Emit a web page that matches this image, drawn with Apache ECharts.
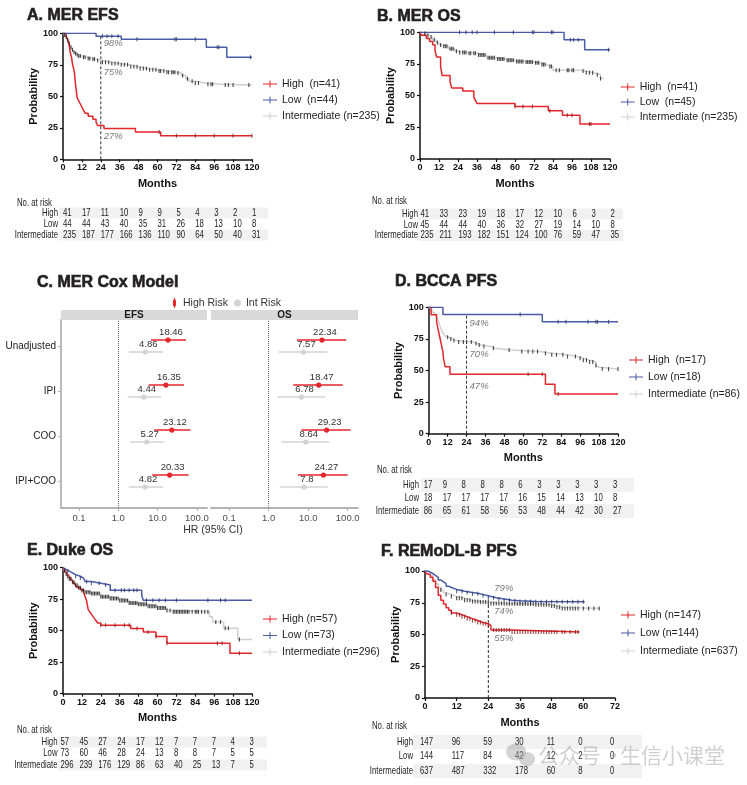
<!DOCTYPE html>
<html><head><meta charset="utf-8">
<script src="https://cdn.jsdelivr.net/npm/echarts@6/dist/echarts.min.js"></script>
<style>html,body{margin:0;padding:0;background:#fff}#main{width:747px;height:785px}</style>
</head><body><div id="main"></div>
<script>
// ---------------- DATA ----------------
const riskGroups = ['High', 'Low', 'Intermediate'];
// Panel A: MER EFS
const A_high = [[0,100],[2,97.6],[3,95.1],[4,90.2],[4.5,85.4],[5.5,80.5],[6,75.6],[7,70.7],[7.5,65.9],[8,58.5],[8.5,53.7],[9,48.8],[10,46.3],[11,43.9],[12,41.5],[13,39],[14,36.6],[16,34.1],[19,31.7],[21,29.3],[22,26.8],[26,24.4],[46,21.7],[62,18.6],[120,18.6]];
const A_high_cens = [61,72,84,96,108,120];
const A_low = [[0,100],[21,97.7],[37,95.3],[91,88.9],[104,81],[120,81]];
const A_low_cens = [25,28,31,35,47,71,72,84,98,99,119];
const A_int = [[0,100],[1,98.7],[2,97],[3,94.5],[4,92],[5,89],[6,87],[7,85],[8,84],[9,83],[10,82],[12,81],[15,80],[18,79.5],[21,78.5],[24,77],[30,76],[36,75],[42,73.5],[48,72],[54,71],[60,70],[66,69],[72,68.5],[75,66.5],[78,64],[80,62],[84,60.5],[90,59.5],[100,59],[120,59]];
const A_int_cens = [1,2,3,4,5,6,7,8,9,10,11,13,14,16,17,19,20,22,25,27,29,31,33,35,37,39,41,43,45,47,49,51,53,55,57,59,61,62,64,66,67,69,70,71,73,76,79,82,84,86,92,94,95,103,105,108,118];
const A_legend = ['High  (n=41)', 'Low  (n=44)', 'Intermediate (n=235)'];
const A_pct = [98, 75, 27];
const A_risk_high = [41,17,11,10,9,9,5,4,3,2,1];
const A_risk_low = [44,44,43,40,35,31,26,18,13,10,8];
const A_risk_int = [235,187,177,166,136,110,90,64,50,40,31];

// Panel B: MER OS
const B_high = [[0,100],[1,97.6],[4,95.1],[6,92.7],[8,90.2],[9.5,85.4],[10.5,80.5],[13,73.2],[14,65.9],[19,61],[20,56.1],[27,53.7],[34,48.8],[35,46.3],[36,43.9],[60,41.5],[81,38],[90,34.6],[101,27.7],[120,27.7]];
const B_high_cens = [60,65,71,82,93,96,107,108];
const B_low = [[0,100],[91,94.2],[104,86.3],[120,86.3]];
const B_low_cens = [25,29,33,36,47,59,71,72,83,84,95,97,100,119];
const B_int = [[0,100],[2,99],[4,97.5],[6,96],[8,94],[10,92],[12,90],[14,89],[18,87],[22,85],[24,84],[30,83.5],[36,82],[42,80],[48,79],[54,78],[60,77],[66,76.5],[72,76],[76,74.5],[80,73],[84,70],[100,69.5],[104,68],[110,66.5],[114,63.5],[116,63.5]];
const B_int_cens = [3,5,7,9,11,13,15,16,17,19,20,21,23,25,27,28,29,31,32,34,35,37,38,39,40,41,43,44,45,46,47,49,50,51,52,53,55,56,57,58,59,61,62,63,64,65,67,68,69,70,71,73,74,75,77,78,79,82,83,86,88,93,94,96,97,103,105,107,109,112,114];
const B_legend = ['High  (n=41)', 'Low  (n=45)', 'Intermediate (n=235)'];
const B_risk_high = [41,33,23,19,18,17,12,10,6,3,2];
const B_risk_low = [45,44,44,40,36,32,27,19,14,10,8];
const B_risk_int = [235,211,193,182,151,124,100,76,59,47,35];

// Panel D: BCCA PFS
const D_high = [[0,100],[1.5,94.1],[5,88.2],[6,82.4],[7,76.5],[8,70.6],[9,64.7],[9.5,58.8],[10.5,52.9],[13.5,47.1],[74,39.2],[80,31.4],[120,31.4]];
const D_high_cens = [63,72,82];
const D_low = [[0,100],[9,94.4],[72,88.5],[120,88.5]];
const D_low_cens = [58,82,87,101,106,107,114];
const D_int = [[0,100],[1,98.8],[2,96.5],[3,95.3],[4,94.2],[5,91.9],[6,89.5],[7,85.8],[8,82.2],[9,79.8],[10,77.5],[11,76.3],[13,75],[15,73.8],[17,72.6],[28,71.4],[31,70.1],[33,68.9],[40,67.6],[42,66.3],[52,65],[70,63.7],[78,62.4],[88,61],[94,59.6],[98,58.2],[102,56.8],[106,54],[107,52.5],[108,51.1],[120,51.1]];
const D_int_cens = [12,14,16,19,22,24,27,30,32,35,41,51,59,63,66,69,74,78,81,85,88,93,96,98,100,102,104,106,110,114,120];
const D_legend = ['High  (n=17)', 'Low (n=18)', 'Intermediate (n=86)'];
const D_pct = [94, 70, 47];
const D_risk_high = [17,9,8,8,8,6,3,3,3,3,3];
const D_risk_low = [18,17,17,17,17,16,15,14,13,10,8];
const D_risk_int = [86,65,61,58,56,53,48,44,42,30,27];

// Panel E: Duke OS
const E_high = [[0,100],[1,98.2],[2,96.5],[3,94.7],[4,93],[5,91.2],[6,89.5],[7,87.7],[8,86],[9,84.2],[11,82.5],[13,80.7],[14,77.2],[15,73.7],[15.5,70.2],[16,66.7],[17,64.9],[18,63.2],[19,61.4],[20,59.6],[21,57.9],[22,56.1],[24,54.4],[43,51.8],[51,49],[59,45.3],[66,40.1],[106,32.1],[120,32.1]];
const E_high_cens = [24,27,33,39,42,47,54,59,66,98,101,112];
const E_low = [[0,100],[1,98.6],[2,97.3],[4,95.9],[6,94.5],[8,93.2],[11,91.8],[13,90.4],[14,89],[18,87.7],[24,86.3],[30,82.1],[50,78],[51,74.2],[120,74.2]];
const E_low_cens = [3,8,11,15,18,23,27,33,37,39,42,45,47,53,57,61,65,72,92,100,103];
const E_int = [[0,100],[1,97.5],[2,95],[3,93],[4,91],[6,88.5],[8,86],[10,84],[12,82],[14,80.5],[18,79.5],[24,77],[30,75.5],[36,74],[42,72],[48,71],[54,69.5],[60,68],[66,66],[70,65],[93,61],[95,57],[102,52],[111,43],[120,43]];
const E_int_cens = [1,2,3,4,5,6,7,8,9,10,11,12,13,14,15,16,17,18,19,20,21,22,23,24,25,26,27,28,29,30,31,32,33,34,35,36,37,38,39,40,41,42,43,44,45,46,47,48,49,50,51,52,53,54,55,56,57,58,59,60,61,62,63,64,65,66,68,70,71,72,73,74,75,76,77,78,79,80,82,84,85,86,88,90,92,97,100,103,105,112];
const E_legend = ['High (n=57)', 'Low (n=73)', 'Intermediate (n=296)'];
const E_risk_high = [57,45,27,24,17,12,7,7,7,4,3];
const E_risk_low = [73,60,46,28,24,13,8,8,7,5,5];
const E_risk_int = [296,239,176,129,86,63,40,25,13,7,5];

// Panel F: REMoDL-B PFS
const F_high = [[0,100],[0.5,98],[1,97],[2,95],[3,92],[4,87],[5,81],[6,77],[7,74],[8,71],[9,69],[10,67],[12,65.5],[14,64],[16,62.5],[18,61],[20,59.5],[22,58.5],[24,57],[25,53.5],[33,52],[58.5,52]];
const F_high_cens = [10,12,13,14,15,16,17,18,19,20,21,22,23,24,26,27,28,29,30,31,32,33,34,35,36,37,38,39,40,41,42,43,44,45,46,47,48,49,50,52,53,55,57,58];
const F_low = [[0,100],[1,99],[2,98],[3,96.5],[4,95],[5,93],[6,91.5],[7,90],[8,88],[9,87],[10,85.5],[12,84],[15,83],[18,82],[21,80.5],[24,79],[27,78],[30,77],[33,76.5],[36,76],[42,75.7],[60.5,75.5]];
const F_low_cens = [12,14,16,18,20,22,24,26,28,30,32,34,36,38,40,42,44,46,48,50,52,54,56,58,60];
const F_int = [[0,100],[1,98.5],[2,96.5],[3,93],[4,90],[5,87.5],[6,85],[7,83],[8,81.5],[10,80],[12,78.5],[15,77],[18,76],[21,75.5],[24,74.5],[30,74.3],[36,74],[42,73.5],[48,72.5],[50,71.5],[52,70.5],[66.3,70.5]];
const F_int_cens = [6,8,10,12,13,14,15,16,17,18,19,20,21,22,23,24,25,26,27,28,29,30,31,32,33,34,35,36,37,38,39,40,41,42,43,44,45,46,47,48,49,50,51,52,53,54,55,56,57,58,60,62,64,66];
const F_legend = ['High (n=147)', 'Low (n=144)', 'Intermediate (n=637)'];
const F_pct = [79, 74, 55];
const F_risk_high = [147,96,59,30,11,0,0];
const F_risk_low = [144,117,84,42,12,2,0];
const F_risk_int = [637,487,332,178,60,8,0];

// Panel C: MER Cox model (hazard ratios, 95% CI)
const C_rows = ['Unadjusted', 'IPI', 'COO', 'IPI+COO'];
const C_ticks = [0.1, 1, 10, 100];
const C_tickLabels = ['0.1', '1.0', '10.0', '100.0'];
const EFS_high_hr = [18.46, 16.35, 23.12, 20.33];
const EFS_high_lo = [6.8, 5.9, 8.2, 7.3];
const EFS_high_hi = [53, 47, 69, 62];
const EFS_int_hr = [4.86, 4.44, 5.27, 4.82];
const EFS_int_lo = [1.87, 1.73, 1.98, 1.85];
const EFS_int_hi = [13.7, 12.4, 15, 13.7];
const OS_high_hr = [22.34, 18.47, 29.23, 24.27];
const OS_high_lo = [5.2, 4.2, 6.7, 5.5];
const OS_high_hi = [91, 75, 118, 100];
const OS_int_hr = [7.57, 6.78, 8.64, 7.8];
const OS_int_lo = [1.8, 1.66, 2.09, 1.89];
const OS_int_hi = [30, 27, 34, 31];

// ---------------- RENDER ----------------
const SANS = "'Liberation Sans',Arial,sans-serif";
const COL = {High: '#e3262b', Low: '#4a5ba8', Int: '#cfcfcf'};
const CENS = {High: '#8a1a1a', Low: '#2a376f', Int: '#1a1a1a'};
const TICK_ICON = 'path://M0,3h6.5v-3h1v3h6.5v1h-6.5v3h-1v-3h-6.5z';

function stepValue(curve, t) {
  let v = curve[0][1];
  for (const p of curve) { if (p[0] <= t) v = p[1]; else break; }
  return v;
}

const KM = [
  {id:'A', grid:{left:63, top:33.3, width:189, height:126}, xmax:120,
   curves:{High:[A_high,A_high_cens], Low:[A_low,A_low_cens], Int:[A_int,A_int_cens]},
   legend:A_legend, leg:{left:258, top:73.5, gap:5}, pct:A_pct, pctOff:[[3,8],[3,8],[3,11]],
   risk:{rows:[A_risk_high,A_risk_low,A_risk_int], header:[17,203], ys:[213,224,235], labelX:58, off:0, shade:[59,268], h:11}},
  {id:'B', grid:{left:420, top:32.3, width:190, height:126.7}, xmax:120,
   curves:{High:[B_high,B_high_cens], Low:[B_low,B_low_cens], Int:[B_int,B_int_cens]},
   legend:B_legend, leg:{left:615.7, top:76.5, gap:4}, pct:null,
   risk:{rows:[B_risk_high,B_risk_low,B_risk_int], header:[372,201], ys:[214,225,235.5], labelX:418, off:0.5, shade:[418,623], h:11}},
  {id:'D', grid:{left:428.7, top:307.3, width:189.3, height:126.4}, xmax:120,
   curves:{High:[D_high,D_high_cens], Low:[D_low,D_low_cens], Int:[D_int,D_int_cens]},
   legend:D_legend, leg:{left:624, top:349.5, gap:6}, pct:D_pct, pctOff:[[3,8],[3,9],[3,12]],
   risk:{rows:[D_risk_high,D_risk_low,D_risk_int], header:[377,470], ys:[485,498,511], labelX:419, off:-5, shade:[421,634], h:14}},
  {id:'E', grid:{left:63, top:567.7, width:189, height:126}, xmax:120,
   curves:{High:[E_high,E_high_cens], Low:[E_low,E_low_cens], Int:[E_int,E_int_cens]},
   legend:E_legend, leg:{left:258, top:608.5, gap:5.5}, pct:null,
   risk:{rows:[E_risk_high,E_risk_low,E_risk_int], header:[17,730], ys:[742,753,765], labelX:57.5, off:-2.5, shade:[58,267], h:11}},
  {id:'F', grid:{left:425, top:571, width:190, height:127}, xmax:72,
   curves:{High:[F_high,F_high_cens], Low:[F_low,F_low_cens], Int:[F_int,F_int_cens]},
   legend:F_legend, leg:{left:616, top:604.5, gap:7}, pct:F_pct, pctOff:[[6,-9],[6,7],[6,10.5]],
   risk:{rows:[F_risk_high,F_risk_low,F_risk_int], header:[372,726], ys:[742,756,771], labelX:413, off:-5, shade:[413,642], h:14}}
];

const grids = [], xAxes = [], yAxes = [], series = [], legends = [];
KM.forEach((p, pi) => {
  grids.push(Object.assign({outerBoundsMode:'none', containLabel:false}, p.grid));
  xAxes.push({gridIndex:pi, type:'value', min:0, max:p.xmax, interval:12,
    name:'Months', nameLocation:'middle', nameGap:19,
    nameTextStyle:{fontFamily:SANS, fontWeight:'bold', fontSize:11, color:'#111'},
    axisLine:{show:true, onZero:false, lineStyle:{color:'#111', width:1.5}},
    axisTick:{show:true, length:3, lineStyle:{color:'#111', width:1.2}},
    axisLabel:{margin:4, fontFamily:SANS, fontWeight:'bold', fontSize:9, color:'#111'},
    splitLine:{show:false}});
  yAxes.push({gridIndex:pi, type:'value', min:0, max:100, interval:25,
    name:'Probability', nameLocation:'middle', nameGap:21,
    nameTextStyle:{fontFamily:SANS, fontWeight:'bold', fontSize:11, color:'#111'},
    axisLine:{show:true, onZero:false, lineStyle:{color:'#111', width:1.5}},
    axisTick:{show:true, length:3, lineStyle:{color:'#111', width:1.2}},
    axisLabel:{margin:5, fontFamily:SANS, fontWeight:'bold', fontSize:9, color:'#111'},
    splitLine:{show:false}});
  const labelMap = {};
  ['High','Low','Int'].forEach((g, gi) => {
    const [curve, cens] = p.curves[g];
    const nm = p.id + '_' + g;
    labelMap[nm] = p.legend[gi];
    series.push({name:nm, type:'line', xAxisIndex:pi, yAxisIndex:pi, step:'end', showSymbol:false, symbol:'none',
      data:curve, lineStyle:{color:COL[g], width:1.5}, itemStyle:{color:COL[g]}, z:(g === 'Int' ? 2 : 3), silent:true});
    series.push({type:'scatter', xAxisIndex:pi, yAxisIndex:pi, symbol:'rect', symbolSize:[1.1, 4],
      data:cens.map(t => [t, stepValue(curve, t)]), itemStyle:{color:CENS[g]}, z:4, silent:true});
  });
  legends.push({orient:'vertical', left:p.leg.left, top:p.leg.top, itemWidth:14, itemHeight:7, itemGap:p.leg.gap,
    selectedMode:false, data:['High','Low','Int'].map(g => ({name:p.id + '_' + g, icon:TICK_ICON})),
    formatter:n => labelMap[n], textStyle:{fontFamily:SANS, fontSize:10.5, color:'#222'}});
  if (p.pct) {
    const lowCurve = p.curves.Low[0];
    series.push({type:'line', xAxisIndex:pi, yAxisIndex:pi, symbol:'none', silent:true, z:1,
      data:[[24, 0], [24, stepValue(lowCurve, 24)]], lineStyle:{color:'#333', width:1, type:[3, 2]}});
    series.push({type:'scatter', xAxisIndex:pi, yAxisIndex:pi, symbolSize:0, silent:true, z:5,
      data:p.pct.map((v, k) => ({value:[24, v], label:{offset:p.pctOff[k]}})),
      label:{show:true, position:'right', distance:0, formatter:d => d.value[1] + '%',
        fontFamily:SANS, fontStyle:'italic', fontSize:9.5, color:'#555'}});
  }
});

// Forest plot grids (index 5: EFS, 6: OS)
const LOGMIN = -1.46, LOGMAX = 2.26, YMIN = 0.4, YMAX = 4.58;
const forestGrids = [{left:61, top:320, width:146, height:188}, {left:211, top:320, width:147, height:188}];
const tickLog = C_ticks.map(v => Math.log10(v));
forestGrids.forEach((g, k) => {
  const gi = 5 + k;
  grids.push(Object.assign({outerBoundsMode:'none', containLabel:false}, g));
  xAxes.push({gridIndex:gi, type:'value', min:LOGMIN, max:LOGMAX,
    axisLine:{show:true, onZero:false, lineStyle:{color:'#b3b3b3', width:1.8}},
    axisTick:{show:true, customValues:tickLog, length:3, lineStyle:{color:'#b3b3b3'}},
    axisLabel:{customValues:tickLog, margin:5, fontFamily:SANS, fontSize:9.5, color:'#4d4d4d',
      formatter:v => C_tickLabels[tickLog.findIndex(t => Math.abs(t - v) < 1e-6)]},
    splitLine:{show:false}});
  yAxes.push({gridIndex:gi, type:'value', min:YMIN, max:YMAX,
    axisLine:{show:k === 0, onZero:false, lineStyle:{color:'#b3b3b3', width:1.8}},
    axisTick:{show:k === 0, customValues:[1,2,3,4], length:3, lineStyle:{color:'#b3b3b3'}},
    axisLabel:{show:k === 0, customValues:[1,2,3,4], margin:5, fontFamily:SANS, fontSize:10, color:'#222',
      formatter:v => C_rows[C_rows.length - Math.round(v)]},
    splitLine:{show:false}});
});

function forestSeries(name, color, gi, hr, lo, hi, dy, withRef) {
  const s = {name, type:'custom', xAxisIndex:gi, yAxisIndex:gi, itemStyle:{color}, silent:true, z:3,
    data:hr.map((h, i) => [Math.log10(h), Math.log10(lo[i]), Math.log10(hi[i]), (C_rows.length - i) + dy, h]),
    encode:{x:[0,1,2], y:3},
    renderItem:(params, api) => {
      const y = api.value(3);
      const pt = api.coord([api.value(0), y]);
      const a = api.coord([api.value(1), y]);
      const b = api.coord([api.value(2), y]);
      return {type:'group', children:[
        {type:'line', shape:{x1:a[0], y1:a[1], x2:b[0], y2:b[1]}, style:{stroke:color, lineWidth:1.5}},
        {type:'circle', shape:{cx:pt[0], cy:pt[1], r:2.6}, style:{fill:color}},
        {type:'text', x:pt[0] + 3, y:pt[1] - 7.5, style:{text:String(api.value(4)), textAlign:'center', textVerticalAlign:'middle',
          font:'9.5px ' + SANS, fill:'#333'}}
      ]};
    }};
  if (withRef) s.markLine = {symbol:'none', silent:true, label:{show:false},
    lineStyle:{type:'dotted', color:'#666', width:1}, data:[{xAxis:Math.log10(1)}]};
  return s;
}
series.push(forestSeries('Int Risk', '#d3d3d3', 5, EFS_int_hr, EFS_int_lo, EFS_int_hi, -0.133, true));
series.push(forestSeries('High Risk', '#e3262b', 5, EFS_high_hr, EFS_high_lo, EFS_high_hi, 0.133, false));
series.push(forestSeries('Int Risk', '#d3d3d3', 6, OS_int_hr, OS_int_lo, OS_int_hi, -0.133, true));
series.push(forestSeries('High Risk', '#e3262b', 6, OS_high_hr, OS_high_lo, OS_high_hi, 0.133, false));
legends.push({left:168, top:292.5, itemWidth:7, itemHeight:11, itemGap:6, selectedMode:false,
  data:[{name:'High Risk', icon:'path://M5,0L6.5,3.5L6.5,7.5L5,11L3.5,7.5L3.5,3.5Z'}, {name:'Int Risk', icon:'circle'}],
  textStyle:{fontFamily:SANS, fontSize:10.5, color:'#333'}});

const chart = echarts.init(document.getElementById('main'));
chart.setOption({animation:false, backgroundColor:'#fff', grid:grids, xAxis:xAxes, yAxis:yAxes, series, legend:legends});

// ---------------- Decorations: titles, strips, risk tables ----------------
const gfx = [];
const titles = [['A. MER EFS',27,16],['B. MER OS',377,17],['C. MER Cox Model',37,283],['D. BCCA PFS',395,282],['E. Duke OS',27,551],['F. REMoDL-B PFS',381,552]];
titles.forEach(t => gfx.push({type:'text', x:t[1], y:t[2], z:10,
  style:{text:t[0], font:'bold 16px ' + SANS, fill:'#231f20', stroke:'#231f20', lineWidth:0.6, textVerticalAlign:'middle'}}));
[['EFS', 61, 207], ['OS', 211, 358]].forEach(s => {
  gfx.push({type:'rect', shape:{x:s[1], y:310, width:s[2] - s[1], height:10}, style:{fill:'#d9d9d9'}, z:1});
  gfx.push({type:'text', x:(s[1] + s[2]) / 2, y:315.5, z:2, style:{text:s[0], font:'bold 10px ' + SANS, fill:'#1a1a1a', textAlign:'center', textVerticalAlign:'middle'}});
});
gfx.push({type:'text', x:213, y:530, style:{text:'HR (95% CI)', font:'10.5px ' + SANS, fill:'#333', textAlign:'center', textVerticalAlign:'middle'}});

const RF = '10.5px ' + SANS;
const SX = 0.74;   // condensed look of the original table font
KM.forEach((p, pi) => {
  const r = p.risk;
  gfx.push({type:'text', x:r.header[0], y:r.header[1], scaleX:SX, style:{text:'No. at risk', font:RF, fill:'#222', textVerticalAlign:'middle'}});
  riskGroups.forEach((lab, ri) => {
    const y = r.ys[ri];
    if (ri !== 1) gfx.push({type:'rect', shape:{x:r.shade[0], y:y - r.h / 2, width:r.shade[1] - r.shade[0], height:r.h}, style:{fill:'#f1f1f1'}, z:-1});
    gfx.push({type:'text', x:r.labelX, y, scaleX:SX, style:{text:lab, font:RF, fill:'#222', textAlign:'right', textVerticalAlign:'middle'}});
    r.rows[ri].forEach((v, k) => {
      const px = chart.convertToPixel({gridIndex:pi}, [k * 12, 0])[0];
      gfx.push({type:'text', x:px + r.off, y, scaleX:SX, style:{text:String(v), font:RF, fill:'#222', textAlign:'left', textVerticalAlign:'middle'}});
    });
  });
});

// watermark
gfx.push({type:'ellipse', shape:{cx:516, cy:752, rx:10, ry:8.5}, style:{fill:'rgba(160,160,160,0.45)'}, z:20});
gfx.push({type:'ellipse', shape:{cx:527, cy:759, rx:8, ry:7}, style:{fill:'rgba(160,160,160,0.45)'}, z:20});
gfx.push({type:'text', x:538, y:755, z:20, style:{text:'公众号', font:"21px 'Noto Sans CJK SC'", fill:'rgba(150,150,150,0.45)', textVerticalAlign:'middle'}});
gfx.push({type:'text', x:614, y:755, z:20, style:{text:'·', font:"21px 'Noto Sans CJK SC'", fill:'rgba(150,150,150,0.45)', textAlign:'center', textVerticalAlign:'middle'}});
gfx.push({type:'text', x:620, y:755, z:20, style:{text:'生信小课堂', font:"21px 'Noto Sans CJK SC'", fill:'rgba(150,150,150,0.45)', textVerticalAlign:'middle'}});

chart.setOption({graphic:{elements:gfx}});
</script></body></html>
